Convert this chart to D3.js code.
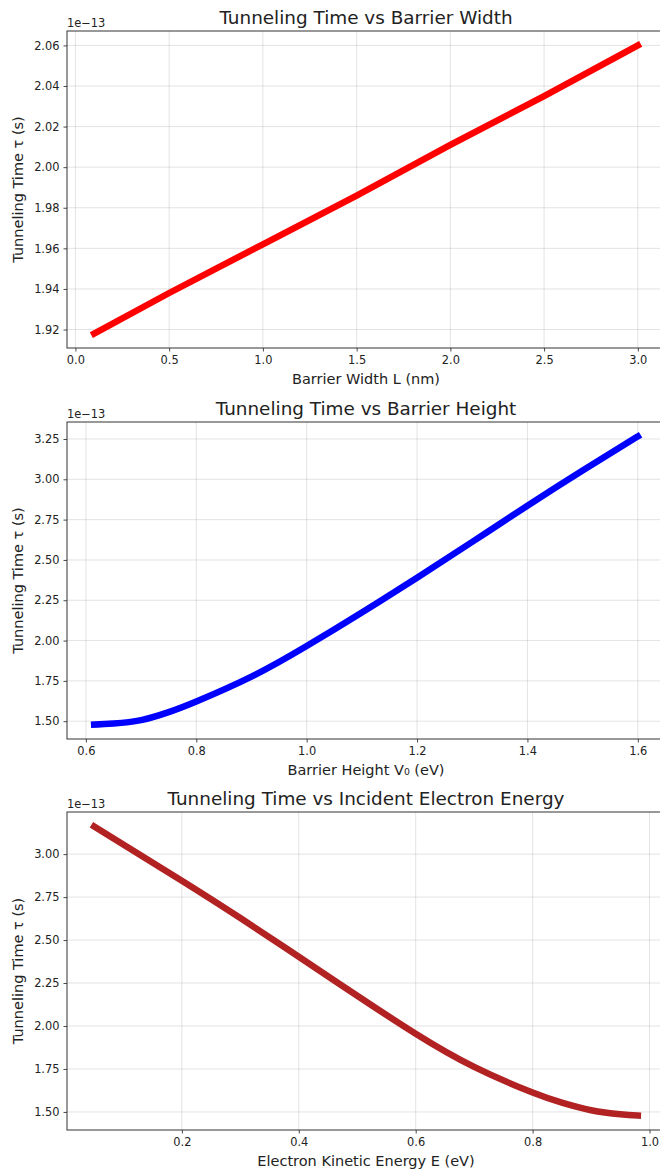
<!DOCTYPE html>
<html>
<head>
<meta charset="utf-8">
<script src="https://cdn.jsdelivr.net/npm/d3@7"></script>
<style>
  body { margin: 0; background: #fff; }
  svg { display: block; overflow: hidden; }
  text { font-family: "DejaVu Sans", sans-serif; fill: #222; }
</style>
</head>
<body>
<script>
// values, tau in units of 1e-13 s

// panel 1: barrier width
const widthL = [0.1, 0.5, 1.0, 1.5, 2.0, 2.5, 3.0];
const tauWidth = [1.918, 1.938, 1.962, 1.986, 2.011, 2.035, 2.060];
const widthXTicks = [0.0, 0.5, 1.0, 1.5, 2.0, 2.5, 3.0];
const widthYTicks = [1.92, 1.94, 1.96, 1.98, 2.00, 2.02, 2.04, 2.06];

// panel 2: barrier height
const heightV0 = [0.615, 0.65, 0.7, 0.75, 0.8, 0.9, 1.0, 1.1, 1.2, 1.3, 1.4, 1.5, 1.6];
const tauHeight = [1.479, 1.486, 1.507, 1.556, 1.622, 1.776, 1.966, 2.174, 2.390, 2.612, 2.836, 3.054, 3.266];
const heightXTicks = [0.6, 0.8, 1.0, 1.2, 1.4, 1.6];
const heightYTicks = [1.50, 1.75, 2.00, 2.25, 2.50, 2.75, 3.00, 3.25];

// panel 3: electron energy
const energyE = [0.05, 0.2, 0.3, 0.4, 0.5, 0.6, 0.7, 0.8, 0.85, 0.9, 0.95, 0.98];
const tauEnergy = [3.161, 2.845, 2.628, 2.403, 2.176, 1.955, 1.762, 1.613, 1.554, 1.510, 1.486, 1.479];
const energyXTicks = [0.2, 0.4, 0.6, 0.8, 1.0];
const energyYTicks = [1.50, 1.75, 2.00, 2.25, 2.50, 2.75, 3.00];

const svgWidth = 660;
const svgHeight = 1171;

const svg = d3.select("body")
  .append("svg")
  .attr("width", svgWidth)
  .attr("height", svgHeight);

// matplotlib-like 5% margins around the data
function padded(values) {
  const [lo, hi] = d3.extent(values);
  const m = (hi - lo) * 0.05;
  return [lo - m, hi + m];
}

function drawPanel(cfg) {
  const left = 67, right = 665;
  const top = cfg.top, bottom = cfg.bottom;

  const x = d3.scaleLinear().domain(padded(cfg.xs)).range([left, right]);
  const y = d3.scaleLinear().domain(padded(cfg.ys)).range([bottom, top]);

  const g = svg.append("g");

  // grid
  g.append("g").selectAll("line")
    .data(cfg.xTicks)
    .enter().append("line")
    .attr("x1", d => x(d)).attr("x2", d => x(d))
    .attr("y1", top).attr("y2", bottom)
    .attr("stroke", "#b0b0b0").attr("stroke-opacity", 0.35).attr("stroke-width", 1);

  g.append("g").selectAll("line")
    .data(cfg.yTicks)
    .enter().append("line")
    .attr("x1", left).attr("x2", right)
    .attr("y1", d => y(d)).attr("y2", d => y(d))
    .attr("stroke", "#b0b0b0").attr("stroke-opacity", 0.35).attr("stroke-width", 1);

  // data line
  const line = d3.line()
    .x((d, i) => x(cfg.xs[i]))
    .y(d => y(d))
    .curve(cfg.curve);

  g.append("path")
    .datum(cfg.ys)
    .attr("d", line)
    .attr("fill", "none")
    .attr("stroke", cfg.color)
    .attr("stroke-width", 6.5)
    .attr("stroke-linecap", "square")
    .attr("stroke-linejoin", "round");

  // axes
  const xAxis = d3.axisBottom(x)
    .tickValues(cfg.xTicks)
    .tickFormat(d3.format(".1f"))
    .tickSize(3.5)
    .tickPadding(4);

  const yAxis = d3.axisLeft(y)
    .tickValues(cfg.yTicks)
    .tickFormat(d3.format(".2f"))
    .tickSize(3.5)
    .tickPadding(4);

  const gx = g.append("g")
    .attr("transform", `translate(0, ${bottom})`)
    .call(xAxis);
  const gy = g.append("g")
    .attr("transform", `translate(${left}, 0)`)
    .call(yAxis);

  [gx, gy].forEach(a => {
    a.select(".domain").remove();
    a.selectAll("line").attr("stroke", "#333").attr("stroke-width", 0.9);
    a.selectAll("text")
      .attr("font-family", "DejaVu Sans")
      .attr("font-size", 11.4)
      .attr("fill", "#222");
  });

  // frame
  g.append("rect")
    .attr("x", left).attr("y", top)
    .attr("width", right - left).attr("height", bottom - top)
    .attr("fill", "none")
    .attr("stroke", "#333")
    .attr("stroke-width", 1);

  // offset text
  g.append("text")
    .attr("x", left)
    .attr("y", top - 4)
    .attr("font-size", 11.4)
    .text("1e\u221213");

  // title
  g.append("text")
    .attr("x", (left + right) / 2)
    .attr("y", top - 7)
    .attr("text-anchor", "middle")
    .attr("font-size", 18.4)
    .text(cfg.title);

  // x label
  g.append("text")
    .attr("x", (left + right) / 2)
    .attr("y", bottom + 36)
    .attr("text-anchor", "middle")
    .attr("font-size", 14.5)
    .text(cfg.xLabel);

  // y label
  g.append("text")
    .attr("transform", `translate(23, ${(top + bottom) / 2}) rotate(-90)`)
    .attr("text-anchor", "middle")
    .attr("font-size", 14.5)
    .text("Tunneling Time \u03c4 (s)");
}

drawPanel({
  top: 31, bottom: 348,
  xs: widthL, ys: tauWidth,
  xTicks: widthXTicks, yTicks: widthYTicks,
  curve: d3.curveLinear,
  color: "#ff0000",
  title: "Tunneling Time vs Barrier Width",
  xLabel: "Barrier Width L (nm)"
});

drawPanel({
  top: 422, bottom: 739,
  xs: heightV0, ys: tauHeight,
  xTicks: heightXTicks, yTicks: heightYTicks,
  curve: d3.curveNatural,
  color: "#0000ff",
  title: "Tunneling Time vs Barrier Height",
  xLabel: "Barrier Height V\u2080 (eV)"
});

drawPanel({
  top: 812, bottom: 1130,
  xs: energyE, ys: tauEnergy,
  xTicks: energyXTicks, yTicks: energyYTicks,
  curve: d3.curveNatural,
  color: "#b22222",
  title: "Tunneling Time vs Incident Electron Energy",
  xLabel: "Electron Kinetic Energy E (eV)"
});
</script>
</body>
</html>
